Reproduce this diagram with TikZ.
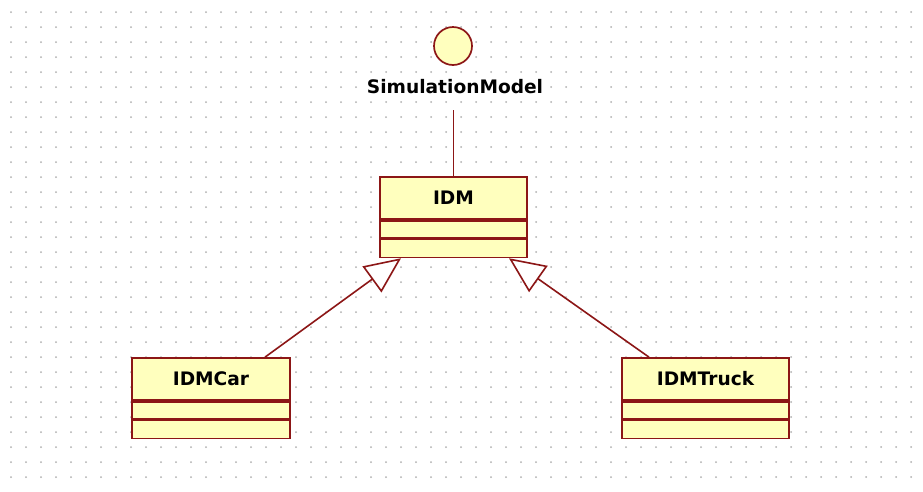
\documentclass[tikz,border=0pt]{standalone}
\usepackage{fontspec}
\setmainfont{DejaVu Sans}
\usetikzlibrary{arrows.meta,positioning}

\definecolor{umlline}{RGB}{140,22,22}
\definecolor{umlfill}{RGB}{255,255,190}
\definecolor{griddot}{RGB}{175,175,175}

\tikzset{
  umlname/.style={draw=umlline, fill=umlfill, line width=1.7pt, rectangle,
    minimum height=42pt, inner sep=0pt,
    font=\fontsize{18.6}{22}\selectfont\bfseries},
  umlpart/.style={draw=umlline, fill=umlfill, line width=1.7pt, rectangle,
    inner sep=0pt, anchor=north},
  iface/.style={draw=umlline, fill=umlfill, line width=1.7pt, circle,
    minimum size=38pt, inner sep=0pt},
  ifacelabel/.style={fill=white, inner sep=1pt,
    font=\fontsize{18.6}{22}\selectfont\bfseries},
  assoc/.style={draw=umlline, line width=1.6pt},
  generalize/.style={draw=umlline, line width=1.6pt,
    -{Triangle[open, length=36pt, width=32pt, fill=white]}}
}

\begin{document}
\begin{tikzpicture}[x=1pt, y=-1pt]
  \useasboundingbox (0,0) rectangle (923,491);
  \fill[white] (0,0) rectangle (923,491);

  % dotted drawing grid
  \foreach \gx in {0,...,60} {
    \foreach \gy in {0,...,31} {
      \fill[griddot] (11+15*\gx, 12+15*\gy) circle (1pt);
    }
  }

  % interface lollipop
  \node[iface] (sim) at (453,46) {};
  \node[ifacelabel] (simlbl) at (455,87) {SimulationModel};

  % class IDM
  \node[umlname, minimum width=147pt] (idm) at (453.5,198) {IDM};
  \node[umlpart, minimum width=147pt, minimum height=17pt] (idmattr) at (idm.south) {};
  \node[umlpart, minimum width=147pt, minimum height=18pt] (idmops) at (idmattr.south) {};

  % class IDMCar
  \node[umlname, minimum width=158pt] (car) at (211,379) {IDMCar};
  \node[umlpart, minimum width=158pt, minimum height=17pt] (carattr) at (car.south) {};
  \node[umlpart, minimum width=158pt, minimum height=18pt] (carops) at (carattr.south) {};

  % class IDMTruck
  \node[umlname, minimum width=167pt] (truck) at (705.5,379) {IDMTruck};
  \node[umlpart, minimum width=167pt, minimum height=17pt] (truckattr) at (truck.south) {};
  \node[umlpart, minimum width=167pt, minimum height=18pt] (truckops) at (truckattr.south) {};

  % realization of the interface
  \draw[assoc] ([yshift=-15pt]simlbl.south -| idm.north) -- (idm.north);

  % generalizations
  \draw[generalize] ([xshift=54pt]car.north) -- ([xshift=-52.5pt]idmops.south);
  \draw[generalize] ([xshift=-56.5pt]truck.north) -- ([xshift=55.5pt]idmops.south);
\end{tikzpicture}
\end{document}
